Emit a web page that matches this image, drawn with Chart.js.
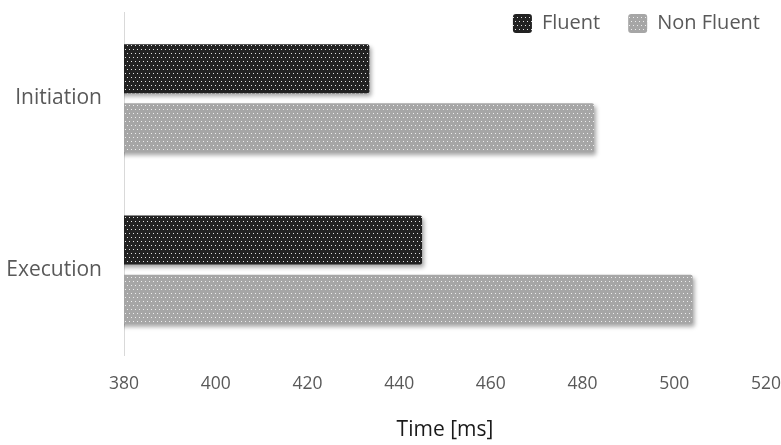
<!DOCTYPE html>
<html>
<head>
<meta charset="utf-8">
<script src="https://cdn.jsdelivr.net/npm/chart.js@4/dist/chart.umd.min.js"></script>
<style>
html,body{margin:0;padding:0;background:#fff;}
#wrap{width:781px;height:445px;position:relative;}
</style>
</head>
<body>
<div id="wrap"><canvas id="c" width="781" height="445"></canvas></div>
<script>
const categories = ["Initiation", "Execution"];
const seriesNames = ["Fluent", "Non Fluent"];
const fluentValues = [433.5, 445];
const nonFluentValues = [482.5, 504];
const xMin = 380, xMax = 520, xStep = 20;
const axisTitle = "Time [ms]";

function makePattern(base, dot) {
  const p = document.createElement('canvas');
  p.width = 4; p.height = 8;
  const g = p.getContext('2d');
  g.fillStyle = base; g.fillRect(0, 0, 4, 8);
  g.fillStyle = dot;
  g.fillRect(1, 1, 1, 1);
  g.fillRect(3, 5, 1, 1);
  return document.getElementById('c').getContext('2d').createPattern(p, 'repeat');
}
const darkPat = makePattern('#222222', '#e2e2e2');
const lightPat = makePattern('#a6a6a6', '#ededed');

const LEGEND_PAD = 28;
const LEGEND_CENTER_Y = 23.5;
const LEGEND_RIGHT_TEXT = 760;

const shadowPlugin = {
  id: 'shadow',
  beforeDatasetsDraw(chart) {
    const ctx = chart.ctx;
    ctx.save();
    ctx.shadowColor = 'rgba(0,0,0,0.35)';
    ctx.shadowBlur = 4;
    ctx.shadowOffsetX = 2;
    ctx.shadowOffsetY = 3;
  },
  afterDatasetsDraw(chart) { chart.ctx.restore(); }
};

const legendPlacer = {
  id: 'legendPlacer',
  afterLayout(chart) {
    const lg = chart.legend;
    if (!lg) return;
    const ih = lg._itemHeight || 20;
    lg.top = LEGEND_CENTER_Y - LEGEND_PAD - ih / 2;
    lg.bottom = lg.top + 60;
    lg.right = LEGEND_RIGHT_TEXT + LEGEND_PAD;
  }
};

const font = "'Open Sans', sans-serif";
const textColor = '#595959';
const clear = 'rgba(0,0,0,0)';

const chart = new Chart(document.getElementById('c'), {
  type: 'bar',
  data: {
    labels: categories,
    datasets: [
      { label: seriesNames[0], data: fluentValues, backgroundColor: darkPat, borderRadius: 2, borderSkipped: 'start' },
      { label: seriesNames[1], data: nonFluentValues, backgroundColor: lightPat, borderRadius: 2, borderSkipped: 'start' }
    ]
  },
  options: {
    indexAxis: 'y',
    responsive: false,
    animation: false,
    devicePixelRatio: 1,
    categoryPercentage: 0.69,
    barPercentage: 0.83,
    layout: { padding: { top: 5, right: 0, left: 0, bottom: 0 } },
    plugins: {
      legend: {
        position: 'top',
        align: 'end',
        labels: {
          boxWidth: 19, boxHeight: 19,
          color: textColor,
          font: { family: font, size: 20 },
          padding: LEGEND_PAD,
          useBorderRadius: true,
          borderRadius: 3
        }
      },
      tooltip: { enabled: false }
    },
    scales: {
      x: {
        min: xMin, max: xMax,
        ticks: { stepSize: xStep, color: textColor, font: { family: font, size: 17.5 }, padding: 0 },
        grid: { display: true, drawOnChartArea: false, drawTicks: true, tickLength: 18.5, color: clear },
        border: { display: false },
        title: { display: true, text: axisTitle, color: '#1a1a1a', font: { family: font, size: 21 }, padding: { top: 23, bottom: 2 } }
      },
      y: {
        ticks: { color: textColor, font: { family: font, size: 21 }, padding: 0 },
        grid: { display: true, drawOnChartArea: false, drawTicks: true, tickLength: 22, color: clear },
        border: { display: true, color: '#d9d9d9', width: 1 },
        afterFit(scale) { scale.width = 124; }
      }
    }
  },
  plugins: [shadowPlugin, legendPlacer]
});
const origFit = chart.legend.fit.bind(chart.legend);
chart.legend.fit = function () { origFit(); this.height = 0; };
chart.update();
</script>
</body>
</html>
